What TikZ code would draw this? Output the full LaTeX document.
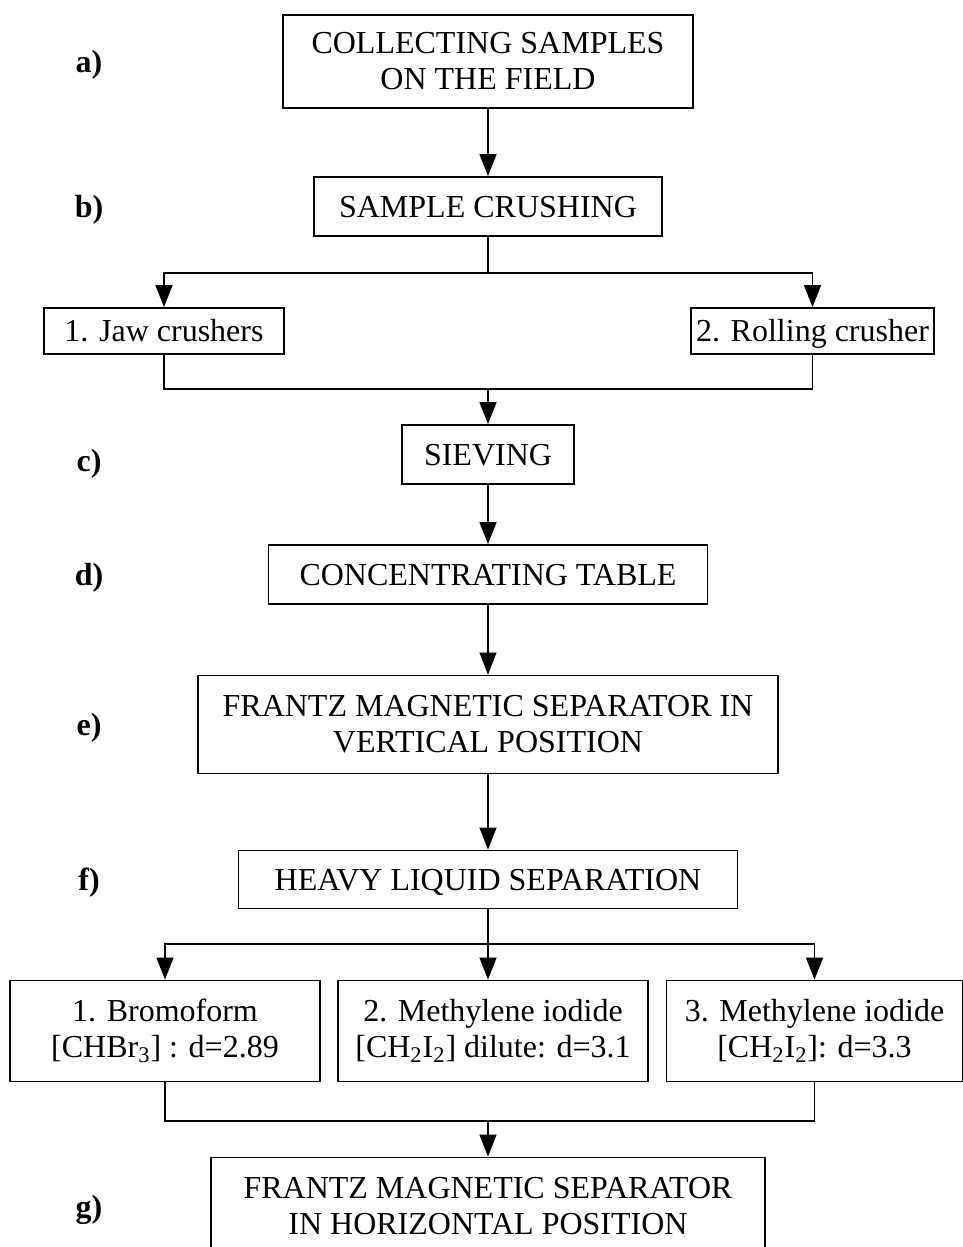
\documentclass[tikz,border=0pt]{standalone}
\usepackage{fontspec}
\setmainfont{Liberation Serif}
\usetikzlibrary{positioning, arrows.meta}
\tikzstyle{arrow} = [line width=0.6pt,->,>={Triangle[length=11pt,width=8.5pt]}]
\tikzstyle{line} = [line width=0.6pt]
\tikzstyle{stage} = [rectangle, draw=black, line width=0.9pt, inner sep=0pt, align=center, font=\fontsize{16}{18}\selectfont]
\tikzstyle{oneline} = [text height=13pt, text depth=2.5pt]
\tikzstyle{tag} = [font=\fontsize{16}{18}\selectfont\bfseries, yshift=-1.5pt]

\begin{document}
\begin{tikzpicture}[x=0.5pt, y=-0.5pt, node distance=75pt]
        \useasboundingbox (0,0) rectangle (963,1247);
        \node (collect) [stage, minimum width=205pt, minimum height=46.5pt] at (488,61.5) {COLLECTING SAMPLES\\ON THE FIELD};
        \node (crush) [stage, oneline, minimum width=174pt, minimum height=29.5pt, below of=collect, yshift=2.5pt] {SAMPLE CRUSHING};
        \node (jaw) [stage, oneline, minimum width=120pt, minimum height=23pt, below of=crush, xshift=-162pt, yshift=12.75pt] {1. Jaw crushers};
        \node (rolling) [stage, oneline, minimum width=121.5pt, minimum height=23pt, below of=crush, xshift=162.25pt, yshift=12.75pt] {2. Rolling crusher};
        \node (sieve) [stage, oneline, minimum width=86pt, minimum height=29.5pt, below of=crush, yshift=-49pt] {SIEVING};
        \node (table) [stage, oneline, minimum width=219.5pt, minimum height=29.5pt, below of=sieve, yshift=15pt] {CONCENTRATING TABLE};
        \node (frantzv) [stage, minimum width=290pt, minimum height=49pt, below of=table] {FRANTZ MAGNETIC SEPARATOR IN\\VERTICAL POSITION};
        \node (heavy) [stage, oneline, minimum width=249.5pt, minimum height=29pt, below of=frantzv, yshift=-2.5pt] {HEAVY LIQUID SEPARATION};
        \node (bromo) [stage, minimum width=155pt, minimum height=50.5pt, below of=heavy, xshift=-161.5pt, yshift=-0.75pt] {1. Bromoform\\{}[CHBr\textsubscript{3}] : d=2.89};
        \node (iodide) [stage, minimum width=155pt, minimum height=50.5pt, below of=heavy, xshift=2.5pt, yshift=-0.75pt] {2. Methylene iodide\\{}[CH\textsubscript{2}I\textsubscript{2}] dilute: d=3.1};
        \node (iodidethree) [stage, minimum width=148pt, minimum height=50.5pt, below of=heavy, xshift=163.25pt, yshift=-0.75pt] {3. Methylene iodide\\{}[CH\textsubscript{2}I\textsubscript{2}]: d=3.3};
        \node (frantzh) [stage, minimum width=277pt, minimum height=49pt, below of=heavy, yshift=-88.5pt] {FRANTZ MAGNETIC SEPARATOR\\IN HORIZONTAL POSITION};

        \coordinate (tagx) at (89,0);
        \node (la) [tag] at (tagx |- collect) {a)};
        \node (lb) [tag] at (tagx |- crush) {b)};
        \node (lc) [tag, yshift=-3pt] at (tagx |- sieve) {c)};
        \node (ld) [tag] at (tagx |- table) {d)};
        \node (le) [tag] at (tagx |- frantzv) {e)};
        \node (lf) [tag] at (tagx |- heavy) {f)};
        \node (lg) [tag] at (tagx |- frantzh) {g)};

        \coordinate (splitone) at (488,273);
        \coordinate (joinone) at (488,389);
        \coordinate (splittwo) at (488,944);
        \coordinate (jointwo) at (488,1121);

        \draw [arrow] (collect) -- (crush);
        \draw [line] (crush) -- (splitone);
        \draw [arrow] (splitone) -| (jaw);
        \draw [arrow] (splitone) -| (rolling);
        \draw [line] (jaw) |- (joinone);
        \draw [line] (rolling) |- (joinone);
        \draw [arrow] (joinone) -- (sieve);
        \draw [arrow] (sieve) -- (table);
        \draw [arrow] (table) -- (frantzv);
        \draw [arrow] (frantzv) -- (heavy);
        \draw [line] (heavy) -- (splittwo);
        \draw [arrow] (splittwo) -| (bromo);
        \draw [arrow] (splittwo) -- (splittwo |- iodide.north);
        \draw [arrow] (splittwo) -| (iodidethree);
        \draw [line] (bromo) |- (jointwo);
        \draw [line] (iodidethree) |- (jointwo);
        \draw [arrow] (jointwo) -- (frantzh);
\end{tikzpicture}
\end{document}
